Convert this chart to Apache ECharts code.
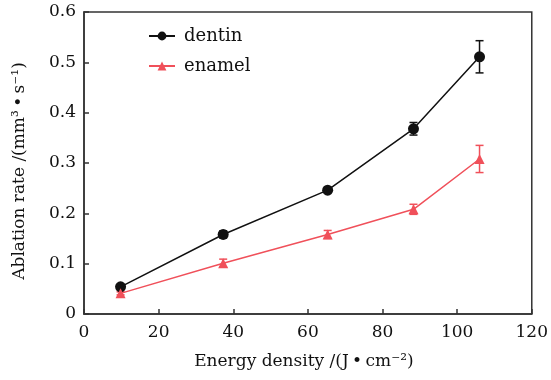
<!DOCTYPE html>
<html lang="en">
<head>
    <meta charset="UTF-8">
    <title>Ablation rate</title>
    <script src="https://cdn.jsdelivr.net/npm/echarts@6/dist/echarts.min.js"></script>
</head>
<body style="margin:0">
<div id="main" style="width:551px; height:380px;"></div>
<script>
    // values
    var energy = [9.8, 37.3, 65.3, 88.3, 106];
    var dentin = [0.054, 0.158, 0.246, 0.368, 0.511];
    var dentinErr = [0.004, 0.007, 0.003, 0.0125, 0.032];
    var enamel = [0.041, 0.101, 0.158, 0.208, 0.308];
    var enamelErr = [0.003, 0.008, 0.008, 0.010, 0.027];

    var black = '#111111';
    var red = '#f0505a';
    var font = 'DejaVu Serif';

    function pairs(xs, ys) {
        var out = [];
        for (var i = 0; i < xs.length; i++) out.push([xs[i], ys[i]]);
        return out;
    }
    function errData(xs, ys, es) {
        var out = [];
        for (var i = 0; i < xs.length; i++) out.push([xs[i], ys[i] - es[i], ys[i] + es[i]]);
        return out;
    }
    function errBar(color) {
        return function (params, api) {
            var lo = api.coord([api.value(0), api.value(1)]);
            var hi = api.coord([api.value(0), api.value(2)]);
            var w = 4;
            var st = {stroke: color, lineWidth: 1.5};
            return {
                type: 'group',
                children: [
                    {type: 'line', shape: {x1: lo[0], y1: lo[1], x2: hi[0], y2: hi[1]}, style: st},
                    {type: 'line', shape: {x1: lo[0] - w, y1: lo[1], x2: lo[0] + w, y2: lo[1]}, style: st},
                    {type: 'line', shape: {x1: hi[0] - w, y1: hi[1], x2: hi[0] + w, y2: hi[1]}, style: st}
                ]
            };
        };
    }

    var myChart = echarts.init(document.getElementById('main'));
    var option = {
        animation: false,
        textStyle: {fontFamily: font},
        grid: {
            left: 84, right: 14, top: 12, bottom: 66,
            show: true, borderColor: '#333', borderWidth: 1.5
        },
        legend: {
            left: 143, top: 22,
            orient: 'vertical',
            itemWidth: 26, itemHeight: 11, itemGap: 12,
            data: ['dentin', 'enamel'],
            textStyle: {fontFamily: font, fontSize: 18, color: '#111', padding: [0, 0, 0, 4]}
        },
        xAxis: {
            type: 'value', min: 0, max: 120, interval: 20,
            name: 'Energy density /(J\u2009\u2022\u2009cm\u207B\u00B2)',
            nameLocation: 'middle', nameGap: 39,
            nameTextStyle: {fontFamily: font, fontSize: 17, color: '#111', padding: [0, 8, 0, 0]},
            axisLine: {lineStyle: {color: '#333', width: 1.5}},
            axisTick: {inside: true, length: 5, lineStyle: {color: '#333', width: 1.5}},
            axisLabel: {fontFamily: font, fontSize: 17, color: '#111', margin: 10},
            splitLine: {show: false}
        },
        yAxis: {
            type: 'value', min: 0, max: 0.6, interval: 0.1,
            name: 'Ablation rate /(mm\u00B3\u2009\u2022\u2009s\u207B\u00B9)',
            nameLocation: 'middle', nameGap: 56,
            nameTextStyle: {fontFamily: font, fontSize: 17, color: '#111', padding: [0, 16, 0, 0]},
            axisLine: {lineStyle: {color: '#333', width: 1.5}},
            axisTick: {inside: true, length: 5, lineStyle: {color: '#333', width: 1.5}},
            axisLabel: {fontFamily: font, fontSize: 17, color: '#111', margin: 8,
                formatter: function (v) { return v === 0 ? '0' : v.toFixed(1); }},
            splitLine: {show: false}
        },
        series: [
            {
                name: 'dentin', type: 'line',
                data: pairs(energy, dentin),
                symbol: 'circle', symbolSize: 11,
                lineStyle: {color: black, width: 1.5},
                itemStyle: {color: black},
                z: 3
            },
            {
                name: 'enamel', type: 'line',
                data: pairs(energy, enamel),
                symbol: 'triangle', symbolSize: 10,
                lineStyle: {color: red, width: 1.5},
                itemStyle: {color: red},
                z: 3
            },
            {
                type: 'custom', renderItem: errBar(black),
                data: errData(energy, dentin, dentinErr),
                encode: {x: 0, y: [1, 2]}, z: 2
            },
            {
                type: 'custom', renderItem: errBar(red),
                data: errData(energy, enamel, enamelErr),
                encode: {x: 0, y: [1, 2]}, z: 2
            }
        ]
    };
    myChart.setOption(option);
</script>
</body>
</html>
